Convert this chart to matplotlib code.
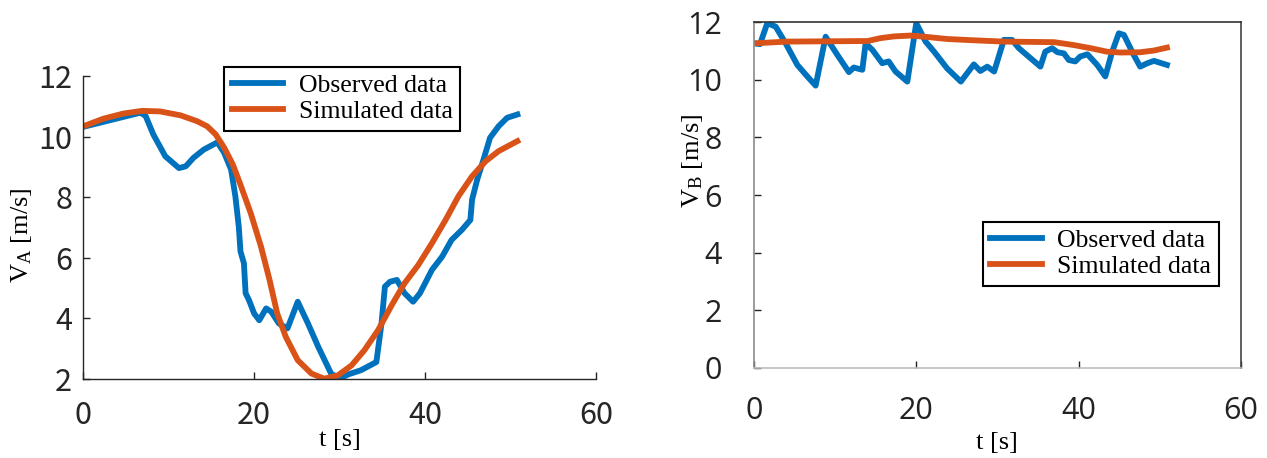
import matplotlib
matplotlib.use("Agg")
import matplotlib.pyplot as plt
from matplotlib import font_manager

# ---- data ----
# panel A: observed speed
t_obs_a = [0, 6.7, 7.3, 8.2, 9.6, 11.2, 12.0, 12.9, 14.1, 15.7, 16.5, 17.3, 17.8, 18.2,
           18.4, 18.8, 19.0, 19.4, 20.0, 20.6, 21.4, 22.0, 22.9, 23.9, 25.1, 26.3,
           27.5, 29.0, 30.0, 31.0, 32.5, 34.3, 34.9, 35.3, 35.9, 36.7, 37.6, 38.6,
           39.4, 40.8, 42.0, 43.1, 44.3, 45.3, 45.5, 46.1, 46.9, 47.6, 48.6, 49.6, 50.8]
v_obs_a = [10.32, 10.79, 10.68, 10.07, 9.35, 8.96, 9.02, 9.30, 9.57, 9.81, 9.46, 8.91,
           8.03, 7.03, 6.21, 5.82, 4.83, 4.60, 4.16, 3.94, 4.33, 4.22, 3.83, 3.67, 4.55,
           3.83, 3.06, 2.18, 2.01, 2.15, 2.29, 2.56, 3.83, 5.05, 5.21, 5.27, 4.83, 4.55,
           4.83, 5.60, 6.04, 6.59, 6.92, 7.25, 7.92, 8.58, 9.30, 9.96, 10.34, 10.62, 10.73]
# panel A: simulated speed
t_sim_a = [0, 2.35, 4.7, 6.9, 9.0, 11.4, 13.3, 14.5, 15.5, 16.5, 17.5, 18.4, 19.6, 20.8,
           21.8, 22.7, 23.7, 25.1, 26.7, 28.2, 29.8, 31.4, 32.9, 34.5, 36.1, 37.6,
           39.2, 40.8, 42.4, 43.9, 45.5, 47.1, 48.6, 49.8, 50.8]
v_sim_a = [10.34, 10.59, 10.76, 10.85, 10.83, 10.70, 10.51, 10.34, 10.07, 9.63, 9.08,
           8.41, 7.47, 6.37, 5.27, 4.16, 3.39, 2.62, 2.18, 2.01, 2.12, 2.45, 2.95, 3.61,
           4.44, 5.16, 5.76, 6.48, 7.25, 8.03, 8.69, 9.19, 9.52, 9.70, 9.85]

# panel B: observed speed
t_obs_b = [0, 0.74, 1.64, 2.67, 3.9, 5.34, 6.57, 7.6, 8.83, 10.27, 11.7, 12.3, 13.35,
           13.76, 14.6, 15.8, 16.6, 17.45, 18.9, 20.0, 21.15, 22.2, 23.8, 25.5, 27.1,
           27.9, 28.75, 29.6, 30.8, 31.8, 32.65, 34.1, 35.3, 35.9, 36.75, 37.4, 38.2,
           38.8, 39.6, 40.2, 41.1, 42.3, 43.3, 44.15, 44.97, 45.6, 46.8, 47.6, 48.5,
           49.3, 50.9]
v_obs_b = [11.27, 11.24, 11.97, 11.85, 11.27, 10.52, 10.12, 9.80, 11.50, 10.87, 10.27,
           10.43, 10.35, 11.27, 11.04, 10.58, 10.64, 10.29, 9.94, 11.97, 11.33, 10.98,
           10.40, 9.94, 10.54, 10.31, 10.46, 10.29, 11.39, 11.39, 11.10, 10.75, 10.46,
           10.98, 11.10, 10.96, 10.92, 10.69, 10.64, 10.81, 10.89, 10.52, 10.12, 10.98,
           11.62, 11.56, 10.87, 10.46, 10.58, 10.66, 10.52]
# panel B: simulated speed
t_sim_b = [0, 4.1, 14.0, 15.6, 17.25, 19.3, 21.35, 23.8, 26.7, 30.8, 37.0, 39.4, 41.5,
           43.5, 45.2, 47.6, 49.3, 50.9]
v_sim_b = [11.27, 11.33, 11.35, 11.45, 11.51, 11.54, 11.49, 11.42, 11.38, 11.33, 11.31,
           11.21, 11.10, 10.98, 10.95, 10.96, 11.02, 11.12]

x_ticks = [0, 20, 40, 60]
y_ticks_a = [2, 4, 6, 8, 10, 12]
y_ticks_b = [0, 2, 4, 6, 8, 10, 12]
labels = ["Observed data", "Simulated data"]

BLUE = "#0072BD"
ORANGE = "#D95319"


def pick(*names):
    have = {f.name for f in font_manager.fontManager.ttflist}
    for n in names:
        if n in have:
            return n
    return "DejaVu Sans"


tick_font_a = pick("Noto Sans CJK JP", "Noto Sans", "DejaVu Sans")
tick_font_b = pick("Open Sans", "Noto Sans", "DejaVu Sans")
serif = pick("Liberation Serif", "DejaVu Serif")

plt.rcParams["mathtext.fontset"] = "custom"
plt.rcParams["mathtext.rm"] = serif
plt.rcParams["mathtext.it"] = serif

fig = plt.figure(figsize=(12.67, 4.58), dpi=100)
leg_kw = dict(loc="upper left", fancybox=False, framealpha=1, edgecolor="black",
              prop={"family": serif, "size": 18.5}, handlelength=2.0,
              handletextpad=0.6, borderpad=0.3, labelspacing=0.1, borderaxespad=0)

# ---- left panel ----
ax1 = fig.add_axes([0.0657, 0.1725, 0.4047, 0.6616])
ax1.plot(t_obs_a, v_obs_a, color=BLUE, lw=4.2, solid_joinstyle="round", label=labels[0])
ax1.plot(t_sim_a, v_sim_a, color=ORANGE, lw=4.2, solid_joinstyle="round", label=labels[1])
ax1.set_xlim(0, 60)
ax1.set_ylim(2, 12)
ax1.set_xticks(x_ticks)
ax1.set_yticks(y_ticks_a)
ax1.spines["top"].set_visible(False)
ax1.spines["right"].set_visible(False)
for s in ("left", "bottom"):
    ax1.spines[s].set_color("#262626")
    ax1.spines[s].set_linewidth(1.0)
ax1.tick_params(direction="in", length=5, width=1, colors="#262626", labelsize=22, pad=8)
ax1.tick_params(axis="x", pad=15)
for lab in ax1.get_xticklabels() + ax1.get_yticklabels():
    lab.set_fontfamily(tick_font_a)
ax1.set_xlabel("t [s]", fontfamily=serif, fontsize=19, va="center")
ax1.xaxis.set_label_coords(0.5, -0.2)
ax1.set_ylabel(r"V$_\mathrm{A}$ [m/s]", fontfamily=serif, fontsize=19)
ax1.yaxis.set_label_coords(-0.096, 0.475)
leg1 = ax1.legend(bbox_to_anchor=(0.275, 1.031), **leg_kw)
leg1.get_frame().set_linewidth(1.5)

# ---- right panel ----
ax2 = fig.add_axes([0.5951, 0.197, 0.3842, 0.7543])
ax2.plot(t_obs_b, v_obs_b, color=BLUE, lw=4.2, solid_joinstyle="round", label=labels[0])
ax2.plot(t_sim_b, v_sim_b, color=ORANGE, lw=4.2, solid_joinstyle="round", label=labels[1])
ax2.set_xlim(0, 60)
ax2.set_ylim(0, 12)
ax2.set_xticks(x_ticks)
ax2.set_yticks(y_ticks_b)
ax2.spines["left"].set_color("#8a8a8a")
ax2.spines["bottom"].set_color("#bdbdbd")
ax2.spines["right"].set_color("#444444")
ax2.spines["top"].set_color("#333333")
for s in ax2.spines.values():
    s.set_linewidth(1.2)
ax2.tick_params(direction="in", length=5, width=1, colors="#222222", labelsize=22)
ax2.tick_params(axis="x", pad=20)
ax2.tick_params(axis="y", pad=23)
for lab in ax2.get_xticklabels() + ax2.get_yticklabels():
    lab.set_fontfamily(tick_font_b)
ax2.set_xlabel("t [s]", fontfamily=serif, fontsize=19, va="center")
ax2.xaxis.set_label_coords(0.5, -0.218)
ax2.set_ylabel(r"V$_\mathrm{B}$ [m/s]", fontfamily=serif, fontsize=19)
ax2.yaxis.set_label_coords(-0.10, 0.6)
leg2 = ax2.legend(bbox_to_anchor=(0.47, 0.4227), **leg_kw)
leg2.get_frame().set_linewidth(1.5)

fig.savefig("out.png", dpi=100)
